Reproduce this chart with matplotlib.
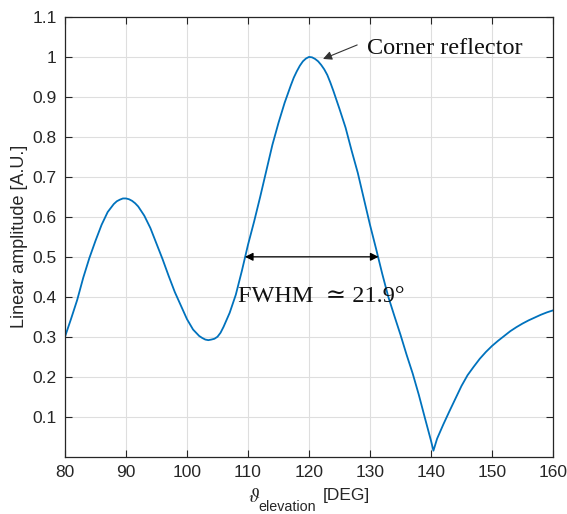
import numpy as np
import matplotlib
matplotlib.use("Agg")
import matplotlib.pyplot as plt

# elevation angle [deg] and linear amplitude
theta = [80, 81, 82, 83, 84, 85, 86, 87, 88, 88.5, 89, 89.5,
         90, 90.5, 91, 91.5, 92, 93, 94, 95, 96, 97, 98, 99,
         100, 101, 102, 102.5, 103, 103.5, 104, 104.5, 105, 105.5, 106, 107, 108, 109,
         110, 111, 112, 113, 114, 115, 116, 117, 117.5, 118, 118.5, 119, 119.5,
         120, 120.5, 121, 121.5, 122, 122.5, 123, 123.5, 124, 125, 126, 127, 128, 129,
         130, 131, 132, 133, 134, 135, 136, 137, 138, 139,
         140, 140.4, 141, 142, 143, 144, 145, 146, 147, 148, 149,
         150, 151, 152, 153, 154, 155, 156, 157, 158, 159, 160]
amp = [0.300, 0.345, 0.392, 0.448, 0.497, 0.540, 0.580, 0.612, 0.632, 0.639, 0.643, 0.646,
       0.646, 0.644, 0.640, 0.634, 0.626, 0.603, 0.572, 0.533, 0.494, 0.452, 0.412, 0.378,
       0.344, 0.318, 0.302, 0.297, 0.293, 0.2915, 0.293, 0.295, 0.300, 0.310, 0.325, 0.360, 0.405, 0.465,
       0.530, 0.588, 0.650, 0.715, 0.780, 0.835, 0.885, 0.928, 0.948, 0.964, 0.978, 0.989, 0.996,
       1.000, 0.999, 0.995, 0.989, 0.980, 0.969, 0.955, 0.936, 0.915, 0.870, 0.823, 0.765, 0.710, 0.645,
       0.580, 0.520, 0.458, 0.400, 0.352, 0.305, 0.255, 0.208, 0.155, 0.097,
       0.040, 0.015, 0.045, 0.080, 0.113, 0.145, 0.177, 0.204, 0.225, 0.245, 0.262,
       0.277, 0.290, 0.302, 0.314, 0.324, 0.333, 0.341, 0.348, 0.355, 0.361, 0.366]

fwhm_left, fwhm_right, half_max = 109.5, 131.4, 0.5
peak_x, peak_y = 120.2, 1.0

xticks = np.arange(80, 161, 10)
yticks = [0.1, 0.2, 0.3, 0.4, 0.5, 0.6, 0.7, 0.8, 0.9, 1, 1.1]
ytick_labels = ['0.1', '0.2', '0.3', '0.4', '0.5', '0.6', '0.7', '0.8', '0.9', '1', '1.1']

plt.rcParams['font.family'] = ['Liberation Sans', 'DejaVu Sans']
plt.rcParams['mathtext.fontset'] = 'stix'

fig = plt.figure(figsize=(5.67, 5.14), dpi=100)
ax = fig.add_axes([0.1146, 0.1115, 0.8607, 0.8555])

ax.plot(theta, amp, color='#0072BD', linewidth=1.3)

# FWHM double arrow
ax.annotate('', xy=(fwhm_left, half_max), xytext=(fwhm_right, half_max),
            arrowprops=dict(arrowstyle='<|-|>', color='black', lw=0.9,
                            mutation_scale=12, shrinkA=0, shrinkB=0))
ax.text(108.4, 0.388, 'FWHM  \u2243 21.9\u00b0', fontsize=17.5,
        family=['Liberation Serif', 'DejaVu Serif'], color='#111111',
        va='baseline', ha='left')

# peak annotation
ax.annotate('', xy=(peak_x + 2.1, peak_y - 0.005), xytext=(127.9, 1.03),
            arrowprops=dict(arrowstyle='-|>', color='#333333', lw=0.8,
                            mutation_scale=13, shrinkA=0, shrinkB=0))
ax.text(129.5, 1.007, 'Corner reflector', fontsize=17.5,
        family=['Liberation Serif', 'DejaVu Serif'], color='#111111',
        va='baseline', ha='left')

ax.set_xlim(80, 160)
ax.set_ylim(0, 1.1)
ax.set_xticks(xticks)
ax.set_yticks(yticks)
ax.set_yticklabels(ytick_labels)
ax.grid(True, color='#dedede', linewidth=0.8)
ax.set_axisbelow(True)
ax.tick_params(direction='in', top=True, right=True, length=5,
               labelsize=12.5, colors='#262626', width=0.8, pad=6)
for s in ax.spines.values():
    s.set_color('#262626')
    s.set_linewidth(0.9)

ax.set_ylabel('Linear amplitude [A.U.]', fontsize=13, color='#262626', labelpad=3)

# x label built from pieces: serif italic theta, sans subscript, unit
fig.text(248 / 567, 1 - 502 / 514, r'$\vartheta$', fontsize=14, color='#262626',
         va='baseline', ha='left')
fig.text(258 / 567, 1 - 511 / 514, 'elevation', fontsize=10.3, color='#262626',
         va='baseline', ha='left')
fig.text(323 / 567, 1 - 500 / 514, '[DEG]', fontsize=12.5, color='#262626',
         va='baseline', ha='left')

fig.savefig('out.png', dpi=100, facecolor='white')
